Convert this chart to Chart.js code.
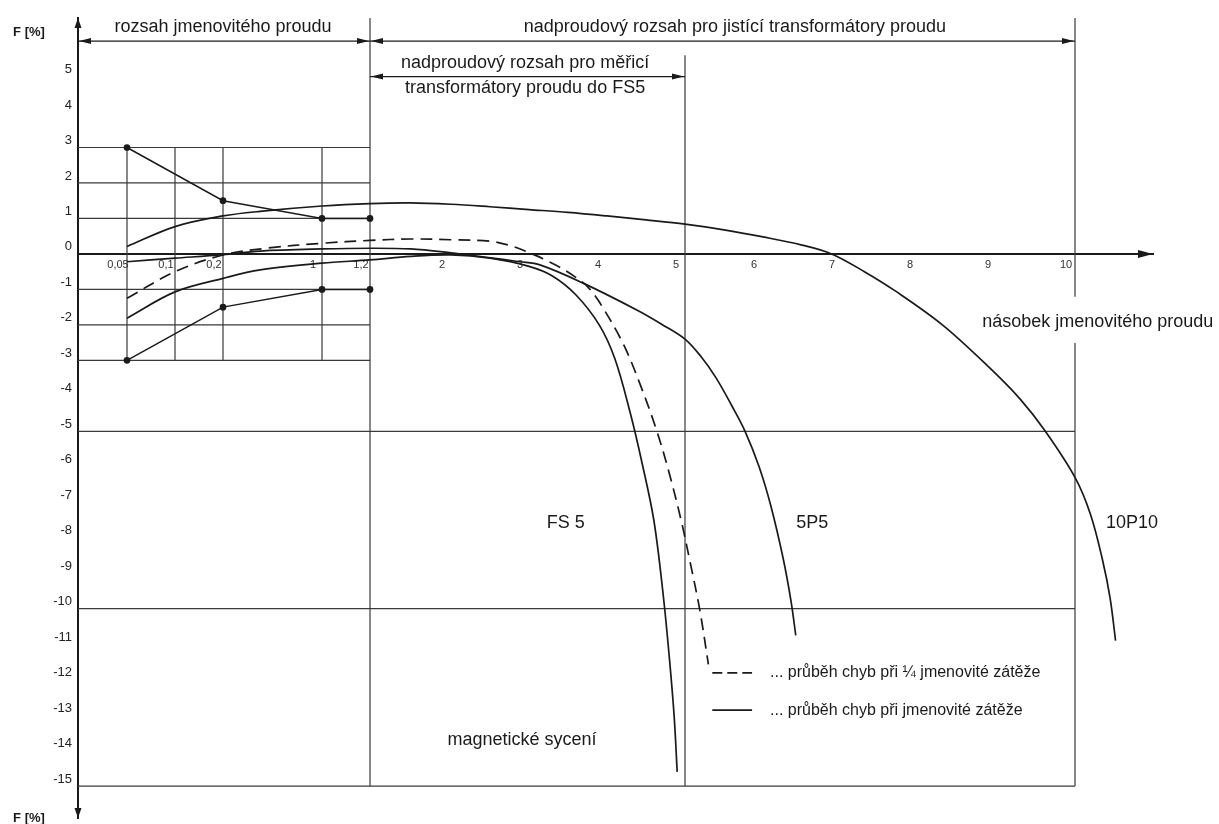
<!DOCTYPE html>
<html>
<head>
<meta charset="utf-8">
<script src="https://cdn.jsdelivr.net/npm/chart.js@4.4.1/dist/chart.umd.min.js"></script>
<style>
html,body{margin:0;padding:0;background:#fff;}
#wrap{width:1219px;height:824px;position:relative;}
</style>
</head>
<body>
<div id="wrap"><canvas id="c"></canvas></div>
<script>
// ---------------- DATA ----------------
const xTickValues = [0.05, 0.1, 0.2, 1, 1.2, 2, 3, 4, 5, 6, 7, 8, 9, 10];
const xTickLabels = ['0,05', '0,1', '0,2', '1', '1,2', '2', '3', '4', '5', '6', '7', '8', '9', '10'];
const yTickValues = [-15, -14, -13, -12, -11, -10, -9, -8, -7, -6, -5, -4, -3, -2, -1, 0, 1, 2, 3, 4, 5];
const yTickLabels = ['-15', '-14', '-13', '-12', '-11', '-10', '-9', '-8', '-7', '-6', '-5', '-4', '-3', '-2', '-1', '0', '1', '2', '3', '4', '5'];

// class-limit polylines (rated current range)
const limitX = [0.05, 0.2, 1, 1.2];
const upperLimitY = [3, 1.5, 1, 1];
const lowerLimitY = [-3, -1.5, -1, -1];

// 10P10 – rated burden
const p10X = [0.05, 0.1, 0.2, 0.5, 1, 1.2, 1.6, 2, 2.5, 3, 3.5, 4, 4.5, 5, 5.5, 6, 6.5, 6.88, 7.3, 7.7, 8.3, 8.9, 9.3, 9.62, 10, 10.2, 10.35, 10.45, 10.52];
const p10Y = [0.21, 0.77, 1.07, 1.2, 1.35, 1.42, 1.44, 1.4, 1.33, 1.25, 1.17, 1.07, 0.96, 0.84, 0.68, 0.48, 0.25, 0, -0.5, -1.05, -2.0, -3.2, -4.1, -5.0, -6.3, -7.35, -8.6, -9.7, -10.9];

// FS5 – 1/4 burden (dashed)
const fsQuarterX = [0.05, 0.1, 0.2, 0.55, 1, 1.2, 1.6, 2, 2.5, 2.75, 3, 3.2, 3.4, 3.6, 3.75, 3.9, 4.2, 4.42, 4.64, 4.81, 4.96, 5.06, 5.19, 5.3];
const fsQuarterY = [-1.25, -0.5, -0.03, 0.16, 0.3, 0.38, 0.42, 0.4, 0.36, 0.24, 0.04, -0.16, -0.38, -0.66, -0.92, -1.35, -2.5, -3.65, -5.0, -6.28, -7.6, -8.63, -10.04, -11.57];

// FS5 – rated burden
const fsNominalX = [0.05, 0.1, 0.2, 0.5, 1, 1.2, 1.6, 2, 2.5, 3, 3.3, 3.6, 3.9, 4.1, 4.3, 4.45, 4.6, 4.72, 4.8, 4.86, 4.9];
const fsNominalY = [-1.81, -1.07, -0.69, -0.45, -0.26, -0.17, -0.07, -0.03, -0.12, -0.35, -0.62, -1.15, -2.0, -2.95, -4.5, -5.9, -7.5, -9.6, -11.4, -13.0, -14.6];

// 5P5 – rated burden
const p5X = [0.05, 0.1, 0.2, 0.5, 1, 1.2, 1.6, 2, 2.4, 2.88, 3.14, 3.7, 4.4, 4.7, 5, 5.2, 5.4, 5.6, 5.77, 5.95, 6.1, 6.26, 6.36, 6.42];
const p5Y = [-0.22, -0.12, -0.02, 0.08, 0.14, 0.16, 0.14, 0.03, -0.08, -0.22, -0.31, -0.83, -1.6, -1.98, -2.4, -2.88, -3.5, -4.28, -5.0, -6.0, -7.1, -8.6, -9.8, -10.75];

// texts
const rangeTexts = ['rozsah jmenovitého proudu', 'nadproudový rozsah pro jistící transformátory proudu', 'nadproudový rozsah pro měřicí', 'transformátory proudu do FS5'];
const curveNames = ['FS 5', '5P5', '10P10'];
const xAxisTitle = 'násobek jmenovitého proudu';
const yAxisTitle = 'F [%]';
const regionText = 'magnetické sycení';
const legendLabels = ['... průběh chyb při ¼ jmenovité zátěže', '... průběh chyb při jmenovité zátěže'];

// ---------------- AXIS LAYOUT (piecewise x scale) ----------------
const xAxisKnotValues = [0, 0.05, 0.1, 0.2, 1, 1.2, 2, 3, 4, 5, 6, 7, 8, 9, 10, 11];
const xAxisKnotPos = [0, 49, 97, 145, 244, 292, 373, 451, 529, 607, 685, 763, 841, 919, 997, 1075];

class PiecewiseScale extends Chart.LinearScale {
  getPixelForValue(v) {
    const kv = xAxisKnotValues, kp = xAxisKnotPos, n = kv.length;
    let pos;
    if (v <= kv[0]) pos = kp[0] + (v - kv[0]) * (kp[1] - kp[0]) / (kv[1] - kv[0]);
    else if (v >= kv[n - 1]) pos = kp[n - 1] + (v - kv[n - 1]) * (kp[n - 1] - kp[n - 2]) / (kv[n - 1] - kv[n - 2]);
    else {
      let i = 0;
      while (v > kv[i + 1]) i++;
      pos = kp[i] + (v - kv[i]) / (kv[i + 1] - kv[i]) * (kp[i + 1] - kp[i]);
    }
    return this.getPixelForDecimal(pos / kp[n - 1]);
  }
  getValueForPixel(px) {
    const kv = xAxisKnotValues, kp = xAxisKnotPos, n = kv.length;
    const pos = this.getDecimalForPixel(px) * kp[n - 1];
    let i = 0;
    while (i < n - 2 && pos > kp[i + 1]) i++;
    return kv[i] + (pos - kp[i]) / (kp[i + 1] - kp[i]) * (kv[i + 1] - kv[i]);
  }
}
PiecewiseScale.id = 'piecewise';
Chart.register(PiecewiseScale);

const FONT = "'Liberation Sans', Arial, Helvetica, sans-serif";
const INK = '#1a1a1a';
const LINE = '#3a3a3a';

function pts(xs, ys) { return xs.map((x, i) => ({ x: x, y: ys[i] })); }

const curveBase = {
  borderColor: INK, borderWidth: 1.7, pointRadius: 0, fill: false,
  cubicInterpolationMode: 'default', tension: 0.35
};

const datasets = [
  { label: 'upper limit', data: pts(limitX, upperLimitY), borderColor: INK, borderWidth: 1.5, tension: 0,
    pointRadius: 2.6, pointBackgroundColor: INK, pointBorderColor: INK, fill: false },
  { label: 'lower limit', data: pts(limitX, lowerLimitY), borderColor: INK, borderWidth: 1.5, tension: 0,
    pointRadius: 2.6, pointBackgroundColor: INK, pointBorderColor: INK, fill: false },
  Object.assign({ label: '10P10' , data: pts(p10X, p10Y) }, curveBase),
  Object.assign({ label: 'FS5 1/4', data: pts(fsQuarterX, fsQuarterY), borderDash: [12, 7] }, curveBase),
  Object.assign({ label: 'FS5', data: pts(fsNominalX, fsNominalY) }, curveBase),
  Object.assign({ label: '5P5', data: pts(p5X, p5Y) }, curveBase)
];

function arrowHead(ctx, x, y, dir, len, half) {
  ctx.beginPath();
  ctx.moveTo(x, y);
  if (dir === 'left') { ctx.lineTo(x + len, y - half); ctx.lineTo(x + len, y + half); }
  if (dir === 'right') { ctx.lineTo(x - len, y - half); ctx.lineTo(x - len, y + half); }
  if (dir === 'up') { ctx.lineTo(x - half, y + len); ctx.lineTo(x + half, y + len); }
  if (dir === 'down') { ctx.lineTo(x - half, y - len); ctx.lineTo(x + half, y - len); }
  ctx.closePath();
  ctx.fill();
}

const framePlugin = {
  id: 'frame',
  beforeDatasetsDraw(chart) {
    const { ctx, scales: { x, y } } = chart;
    const top = y.max;
    ctx.save();
    ctx.strokeStyle = LINE;
    ctx.lineWidth = 1.2;
    const segs = [];
    // grid of the rated-current range
    [3, 2, 1, -1, -2, -3].forEach(v => segs.push([0, v, 1.2, v]));
    [0.05, 0.1, 0.2, 1].forEach(v => segs.push([v, 3, v, -3]));
    // region boundaries
    segs.push([1.2, top, 1.2, -15]);
    segs.push([5, 5.6, 5, -15]);
    segs.push([10, top, 10, -1.21]);
    segs.push([10, -2.51, 10, -15]);
    [-5, -10, -15].forEach(v => segs.push([0, v, 10, v]));
    segs.forEach(s => {
      ctx.beginPath();
      ctx.moveTo(x.getPixelForValue(s[0]), y.getPixelForValue(s[1]));
      ctx.lineTo(x.getPixelForValue(s[2]), y.getPixelForValue(s[3]));
      ctx.stroke();
    });
    ctx.restore();
  },
  afterDraw(chart) {
    const { ctx, chartArea: ca, scales: { x, y } } = chart;
    ctx.save();
    ctx.fillStyle = INK;
    ctx.strokeStyle = INK;
    // axis arrows
    arrowHead(ctx, ca.left, ca.top, 'up', 10, 3.5);
    arrowHead(ctx, ca.left, ca.bottom, 'down', 10, 3.5);
    arrowHead(ctx, ca.right, y.getPixelForValue(0), 'right', 15, 4);

    // dimension lines
    ctx.lineWidth = 1.2;
    const dim = (x1, x2, yv) => {
      const py = y.getPixelForValue(yv);
      const a = x.getPixelForValue(x1), b = x.getPixelForValue(x2);
      ctx.beginPath(); ctx.moveTo(a, py); ctx.lineTo(b, py); ctx.stroke();
      arrowHead(ctx, a + 1, py, 'left', 12, 3);
      arrowHead(ctx, b - 1, py, 'right', 12, 3);
    };
    dim(0, 1.2, 6);
    dim(1.2, 10, 6);
    dim(1.2, 5, 5);

    // texts
    ctx.textBaseline = 'middle';
    ctx.font = '18px ' + FONT;
    const T = (s, xv, yv, align) => {
      ctx.textAlign = align || 'center';
      ctx.fillText(s, x.getPixelForValue(xv), y.getPixelForValue(yv));
    };
    T(rangeTexts[0], 0.2, 6.4);
    T(rangeTexts[1], 5.64, 6.4);
    T(rangeTexts[2], 2.95, 5.38);
    T(rangeTexts[3], 2.95, 4.68);
    T(xAxisTitle, 8.81, -1.92, 'left');
    T(curveNames[0], 3.47, -7.58);
    T(curveNames[1], 6.63, -7.58);
    T(curveNames[2], 10.73, -7.58);
    T(regionText, 2.91, -13.7);

    // y axis titles
    ctx.font = 'bold 13px ' + FONT;
    ctx.textAlign = 'center';
    ctx.fillText(yAxisTitle, 29, 32);
    ctx.fillText(yAxisTitle, 29, 818);

    // legend
    const lx1 = x.getPixelForValue(5.35), lx2 = x.getPixelForValue(5.86), tx = x.getPixelForValue(6.09);
    const ly = [y.getPixelForValue(-11.81), y.getPixelForValue(-12.86)];
    ctx.lineWidth = 1.7;
    ctx.setLineDash([10, 5]);
    ctx.beginPath(); ctx.moveTo(lx1, ly[0]); ctx.lineTo(lx2, ly[0]); ctx.stroke();
    ctx.setLineDash([]);
    ctx.beginPath(); ctx.moveTo(lx1, ly[1]); ctx.lineTo(lx2, ly[1]); ctx.stroke();
    ctx.font = '16px ' + FONT;
    ctx.textAlign = 'left';
    ctx.fillText(legendLabels[0], tx, ly[0]);
    ctx.fillText(legendLabels[1], tx, ly[1]);
    ctx.restore();
  }
};

new Chart(document.getElementById('c'), {
  type: 'line',
  data: { datasets: datasets },
  plugins: [framePlugin],
  options: {
    responsive: true,
    maintainAspectRatio: false,
    animation: false,
    events: [],
    layout: { padding: { top: 18, bottom: 6, left: 0, right: 66 } },
    plugins: { legend: { display: false }, tooltip: { enabled: false } },
    scales: {
      x: {
        type: 'piecewise',
        position: { y: 0 },
        min: 0, max: 11,
        afterBuildTicks: s => { s.ticks = xTickValues.map(v => ({ value: v })); },
        afterFit: s => { s.height = 0; s.paddingLeft = 0; s.paddingRight = 0; s.paddingTop = 0; s.paddingBottom = 0; },
        grid: { display: true, color: 'rgba(0,0,0,0)', drawTicks: false },
        border: { display: true, color: INK, width: 2 },
        ticks: {
          autoSkip: false, maxRotation: 0, minRotation: 0, padding: 4, labelOffset: -9,
          font: { family: FONT, size: 11 }, color: '#333',
          callback: (v, i) => xTickLabels[i]
        }
      },
      y: {
        type: 'linear',
        position: 'left',
        min: -15.9, max: 6.65,
        afterBuildTicks: s => { s.ticks = yTickValues.map(v => ({ value: v })); },
        afterFit: s => { s.width = 78; s.paddingTop = 0; s.paddingBottom = 0; },
        grid: { display: true, color: 'rgba(0,0,0,0)', drawTicks: false },
        border: { display: true, color: INK, width: 2 },
        ticks: {
          autoSkip: false, padding: 6, labelOffset: -7,
          font: { family: FONT, size: 13 }, color: '#222',
          callback: (v, i) => yTickLabels[i]
        }
      }
    }
  }
});
</script>
</body>
</html>
